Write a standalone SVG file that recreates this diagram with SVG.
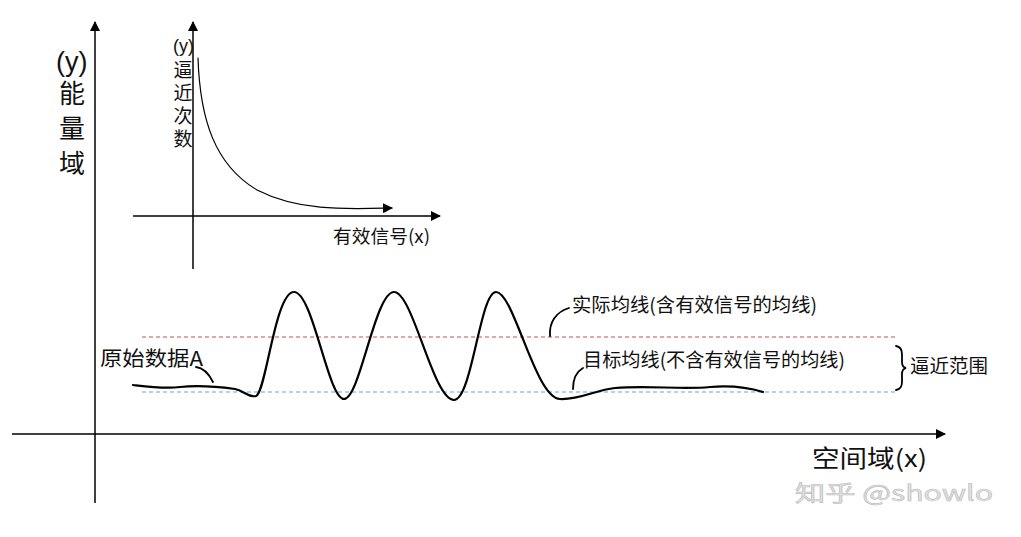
<svg xmlns="http://www.w3.org/2000/svg" width="1021" height="537" viewBox="0 0 1021 537">
<style>
.t{font-family:"Noto Sans CJK SC","Liberation Sans",sans-serif;fill:#111}
.l{font-family:"Liberation Sans",sans-serif;fill:#111}
.ax{stroke:#000;stroke-width:1.5;fill:none}
.ln{stroke:#000;fill:none;stroke-linecap:round}
</style>
<defs>
<marker id="ah" markerWidth="10" markerHeight="10" refX="9" refY="5" orient="auto" markerUnits="userSpaceOnUse" viewBox="0 0 10 10">
<path d="M0,0 L10,5 L0,10 Z" fill="#000"/>
</marker>
</defs>
<rect width="1021" height="537" fill="#fff"/>
<g id="connectors">
<line class="ax" x1="95" y1="503" x2="95" y2="22" marker-end="url(#ah)"/>
<line class="ax" x1="12" y1="434" x2="945" y2="434" marker-end="url(#ah)"/>
<line class="ax" x1="193" y1="269" x2="193" y2="22" marker-end="url(#ah)"/>
<line class="ax" x1="133" y1="216" x2="440" y2="216" marker-end="url(#ah)"/>
<path class="ln" stroke-width="1.2" d="M198,58 C200,120 215,165 257,190 C300,212 350,209 392,208" marker-end="url(#ah)"/>
</g>
<g id="mean-lines">
<line x1="142" y1="337" x2="895" y2="337" stroke="#c0504d" stroke-width="1" stroke-dasharray="4,3"/>
<line x1="142" y1="392" x2="895" y2="392" stroke="#7f9fb5" stroke-width="1" stroke-dasharray="4,3"/>
</g>
<g id="signal">
<path class="ln" stroke-width="2.2" d="M133,385 C150,387 165,389 180,387 C200,385 220,387 235,389 C245,391 248,398 256,396 C266,393 275,292 294,292 C313,292 328,399 344,399 C360,399 375,292 394,292 C413,292 433,400 454,400 C472,400 480,292 496,292 C514,292 535,398 560,399 C580,400 595,390 615,388 C650,385 680,390 710,387 C735,385 750,388 763,392"/>
</g>
<g id="inset-labels">
<text class="l" x="173" y="52" font-size="18">(y)</text>
<text class="t" x="183" y="60" font-size="19" writing-mode="vertical-rl" letter-spacing="4">逼近次数</text>
<text class="t" x="333" y="243" font-size="18" textLength="97" lengthAdjust="spacingAndGlyphs">有效信号(x)</text>
</g>
<g id="main-labels">
<text class="l" x="56" y="71" font-size="27">(y)</text>
<text class="t" x="72" y="80" font-size="26" writing-mode="vertical-rl" letter-spacing="9">能量域</text>
<text class="t" x="812" y="467" font-size="24" textLength="115" lengthAdjust="spacingAndGlyphs">空间域(x)</text>
</g>
<g id="label-raw">
<text class="t" x="100" y="366" font-size="20" textLength="103" lengthAdjust="spacingAndGlyphs">原始数据A</text>
<path class="ln" stroke-width="1.8" d="M196,367 C204,368 209,374 213,382"/>
</g>
<g id="label-actual">
<text class="t" x="572" y="312" font-size="19" textLength="245" lengthAdjust="spacingAndGlyphs">实际均线(含有效信号的均线)</text>
<path class="ln" stroke-width="1.8" d="M550,336 C549,322 556,312 569,308"/>
</g>
<g id="label-target">
<text class="t" x="583" y="367" font-size="19" textLength="262" lengthAdjust="spacingAndGlyphs">目标均线(不含有效信号的均线)</text>
<path class="ln" stroke-width="1.8" d="M573,389 C573,379 576,372 583,368"/>
</g>
<g id="range">
<path class="ln" stroke-width="1.8" d="M896,346 Q902,347 902,354 L902,362 Q902,367 906,368 Q902,369 902,374 L902,382 Q902,389 896,390"/>
<text class="t" x="910" y="373" font-size="19" textLength="78" lengthAdjust="spacingAndGlyphs">逼近范围</text>
</g>
<g id="watermark">
<text x="795" y="501" font-size="22" textLength="198" lengthAdjust="spacingAndGlyphs" font-family="&quot;Noto Sans CJK SC&quot;,&quot;Liberation Sans&quot;,sans-serif" fill="#e2e2e2" stroke="#bdbdbd" stroke-width="0.6">知乎 @showlo</text>
</g>
</svg>
